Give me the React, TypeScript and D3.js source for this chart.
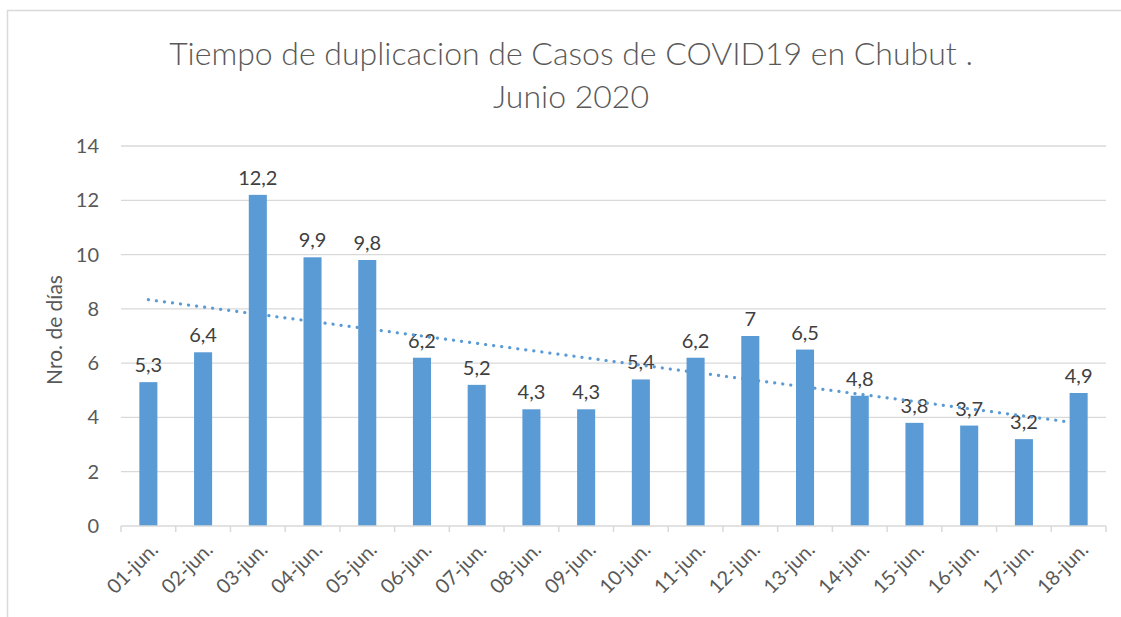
import React from "react";
import * as d3 from "d3";

const categories = ["01-jun.", "02-jun.", "03-jun.", "04-jun.", "05-jun.", "06-jun.", "07-jun.", "08-jun.", "09-jun.", "10-jun.", "11-jun.", "12-jun.", "13-jun.", "14-jun.", "15-jun.", "16-jun.", "17-jun.", "18-jun."];
const values = [5.3, 6.4, 12.2, 9.9, 9.8, 6.2, 5.2, 4.3, 4.3, 5.4, 6.2, 7, 6.5, 4.8, 3.8, 3.7, 3.2, 4.9];
const yTicks = [0, 2, 4, 6, 8, 10, 12, 14];
const titleLines = ["Tiempo de duplicacion de Casos de COVID19 en Chubut .", "Junio 2020"];
const yTitle = "Nro. de días";

const W = 1121, H = 617;
const FONT = "Lato, 'Open Sans', sans-serif";

export default function App() {
  const x = d3.scaleBand<string>().domain(categories).range([121, 1106]).paddingInner(0.67).paddingOuter(0.335);
  const xb = d3.scaleBand<string>().domain(categories).range([121, 1106]);
  const y = d3.scaleLinear().domain([0, 14]).range([526, 146]);

  // linear trend (least squares)
  const n = values.length;
  const idx = values.map((_, i) => i + 1);
  const mx = d3.mean(idx)!;
  const my = d3.mean(values)!;
  const slope = d3.sum(idx.map((xi, i) => (xi - mx) * (values[i] - my))) / d3.sum(idx.map((xi) => (xi - mx) ** 2));
  const icpt = my - slope * mx;
  const trend = [1, n].map((i) => [xb(categories[i - 1])! + xb.bandwidth() / 2, y(icpt + slope * i)] as [number, number]);
  const line = d3.line();

  const fmt = (v: number) => String(v).replace(".", ",");

  return (
    <svg width={W} height={H} style={{ position: "fixed", left: 0, top: 0, background: "#fff" }} fontFamily={FONT}>
      <rect x={0} y={0} width={W} height={H} fill="#fff" />
      <rect x={7.5} y={10.5} width={W + 20} height={H + 20} fill="none" stroke="#d9d9d9" strokeWidth={1.5} />
      {titleLines.map((t, i) => (
        <text key={i} x={571} y={65 + i * 43} textAnchor="middle" fontSize={32} fontWeight={300} fill="#595959">{t}</text>
      ))}
      {yTicks.map((t) => (
        <g key={t}>
          {t > 0 && <line x1={121} x2={1106} y1={y(t)} y2={y(t)} stroke="#d9d9d9" strokeWidth={1.3} />}
          <text x={99} y={y(t)} dy="0.35em" textAnchor="end" fontSize={20} fill="#595959">{t}</text>
        </g>
      ))}
      <text transform={`translate(55,${(146 + 526) / 2 - 6}) rotate(-90)`} textAnchor="middle" dy="0.35em" fontSize={21} fill="#595959">{yTitle}</text>
      {categories.map((c, i) => (
        <g key={c}>
          <rect x={x(c)} y={y(values[i])} width={x.bandwidth()} height={y(0) - y(values[i])} fill="#5b9bd5" />
          <text x={x(c)! + x.bandwidth() / 2} y={y(values[i]) - 10} textAnchor="middle" fontSize={20} fill="#404040">{fmt(values[i])}</text>
        </g>
      ))}
      <line x1={121} x2={1106} y1={y(0)} y2={y(0)} stroke="#d9d9d9" strokeWidth={1.5} />
      {[...categories.map((c) => xb(c)!), 1106].map((px, i) => (
        <line key={i} x1={px} x2={px} y1={y(0)} y2={y(0) + 6} stroke="#d9d9d9" strokeWidth={1.5} />
      ))}
      {categories.map((c) => (
        <text key={c} transform={`translate(${xb(c)! + xb.bandwidth() / 2 + 6},${y(0) + 20}) rotate(-45)`} textAnchor="end" dy="0.35em" fontSize={20} fill="#595959">{c}</text>
      ))}
      <path d={line(trend)!} fill="none" stroke="#5b9bd5" strokeWidth={3.2} strokeDasharray="0.1 8" strokeLinecap="round" />
    </svg>
  );
}
